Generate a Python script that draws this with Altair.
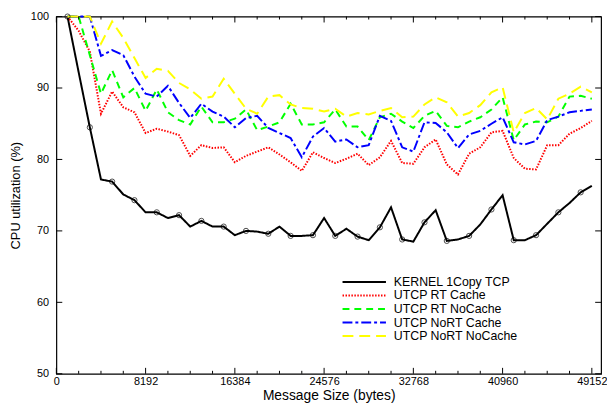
import altair as alt
import pandas as pd

msg_size = [1024, 2048, 3072, 4096, 5120, 6144, 7168, 8192, 9216, 10240, 11264, 12288,
            13312, 14336, 15360, 16384, 17408, 18432, 19456, 20480, 21504, 22528, 23552, 24576,
            25600, 26624, 27648, 28672, 29696, 30720, 31744, 32768, 33792, 34816, 35840, 36864,
            37888, 38912, 39936, 40960, 41984, 43008, 44032, 45056, 46080, 47104, 48128, 49152]

kernel = [100, 92.2, 84.5, 77.2, 76.9, 75.1, 74.3, 72.6, 72.6, 71.8, 72.2, 70.6,
          71.4, 70.6, 70.6, 69.4, 70.0, 69.9, 69.6, 70.6, 69.3, 69.3, 69.4, 71.8,
          69.3, 70.3, 69.2, 68.7, 70.5, 73.3, 68.8, 68.5, 71.2, 72.9, 68.6, 68.8,
          69.3, 70.9, 73.0, 75.0, 68.7, 68.7, 69.4, 71.0, 72.6, 73.9, 75.4, 76.3]
rt_cache = [100, 98.0, 95.1, 86.4, 89.5, 87.3, 86.6, 83.7, 84.3, 83.9, 83.4, 80.5,
            82.0, 81.6, 81.7, 79.6, 80.5, 81.1, 81.7, 80.7, 79.6, 78.4, 81.0, 80.2,
            79.5, 80.1, 80.8, 79.2, 80.3, 82.6, 79.5, 79.4, 81.7, 82.8, 79.3, 77.9,
            80.8, 81.7, 83.8, 84.0, 80.2, 78.7, 78.6, 82.0, 82.0, 83.6, 84.4, 85.4]
rt_nocache = [100, 100, 94.6, 89.2, 92.5, 88.7, 90.0, 86.8, 89.8, 86.6, 85.5, 84.9,
              87.4, 85.2, 85.2, 85.7, 87.0, 84.1, 84.6, 85.2, 87.8, 84.9, 84.9, 85.2,
              87.0, 84.6, 84.6, 82.7, 85.9, 86.4, 85.3, 84.4, 86.1, 86.8, 84.7, 84.5,
              85.3, 85.9, 87.0, 88.7, 82.7, 84.9, 85.3, 85.2, 86.0, 88.8, 88.9, 88.5]
nort_cache = [100, 100, 100, 94.5, 95.3, 94.6, 91.6, 89.2, 88.8, 90.3, 87.9, 85.8,
              87.8, 86.7, 86.0, 84.5, 85.8, 86.1, 84.4, 83.7, 83.0, 80.3, 83.2, 84.4,
              82.5, 82.8, 81.7, 82.0, 86.1, 85.4, 81.7, 81.1, 85.2, 85.1, 83.8, 81.6,
              83.5, 84.0, 85.0, 85.9, 82.4, 82.1, 82.6, 85.5, 86.0, 86.6, 86.8, 87.0]
nort_nocache = [100, 100, 100, 96.2, 99.3, 97.0, 94.2, 91.4, 92.7, 92.4, 90.7, 89.8,
                88.5, 88.8, 91.3, 89.2, 87.1, 86.4, 88.8, 89.0, 87.7, 87.2, 87.1, 86.7,
                87.1, 86.0, 86.5, 86.3, 86.8, 87.2, 85.9, 86.0, 87.7, 88.7, 88.0, 86.0,
                86.5, 87.6, 89.4, 90.1, 83.8, 86.5, 87.2, 85.6, 88.5, 89.2, 90.2, 89.4]

series_names = ["KERNEL 1Copy TCP", "UTCP RT Cache", "UTCP RT NoCache",
                "UTCP NoRT Cache", "UTCP NoRT NoCache"]
series_values = [kernel, rt_cache, rt_nocache, nort_cache, nort_nocache]
series_colors = ["#000000", "#ff0000", "#00ff00", "#0000ff", "#ffff00"]
series_dashes = [[1, 0], [1.5, 1.5], [7, 5], [10, 3, 3, 3], [11, 6]]

x_major = [0, 8192, 16384, 24576, 32768, 40960, 49152]
x_minor = [2048, 4096, 6144, 10240, 12288, 14336, 18432, 20480, 22528, 26624, 28672,
           30720, 34816, 36864, 38912, 43008, 45056, 47104]
y_major = [50, 60, 70, 80, 90, 100]

rows = []
for name, vals in zip(series_names, series_values):
    for i, (s, v) in enumerate(zip(msg_size, vals)):
        rows.append({"size": s, "cpu": v, "series": name, "i": i})
df = pd.DataFrame(rows)
markers = df[(df["series"] == series_names[0]) & (df["i"] % 2 == 0)]

W, H = 552, 362
xscale = alt.Scale(domain=[0, 50000], nice=False, zero=False)
yscale = alt.Scale(domain=[50, 100], nice=False, zero=False)

legend = alt.Legend(title=None, orient="none", legendX=289, legendY=263,
                    symbolType="stroke", symbolSize=1936, symbolStrokeWidth=2,
                    clipHeight=12, rowPadding=0.7, padding=0,
                    labelFont="Liberation Sans", labelFontSize=12.5, labelOffset=7,
                    labelColor="#000000")

lines = alt.Chart(df).mark_line(strokeWidth=2).encode(
    x=alt.X("size:Q", scale=xscale,
            axis=alt.Axis(values=x_major, format="d", ticks=False, domain=False, grid=False,
                          labelFlush=False, labelPadding=2, labelFontSize=11,
                          labelFont="Liberation Sans", labelColor="#000000",
                          title="Message Size (bytes)", titleFont="Liberation Sans",
                          titleFontSize=14, titleFontWeight="normal", titlePadding=2,
                          titleColor="#000000")),
    y=alt.Y("cpu:Q", scale=yscale,
            axis=alt.Axis(values=y_major, ticks=False, domain=False, grid=False,
                          labelPadding=8, labelFontSize=11, labelFont="Liberation Sans",
                          labelColor="#000000",
                          title="CPU utilization (%)", titleFont="Liberation Sans",
                          titleFontSize=13, titleFontWeight="normal", titlePadding=8,
                          titleColor="#000000")),
    color=alt.Color("series:N", scale=alt.Scale(domain=series_names, range=series_colors),
                    legend=legend),
    strokeDash=alt.StrokeDash("series:N",
                              scale=alt.Scale(domain=series_names, range=series_dashes),
                              legend=legend),
    detail="series:N",
)

points = alt.Chart(markers).mark_point(shape="circle", filled=False, color="#000000",
                                       size=28, strokeWidth=1).encode(
    x=alt.X("size:Q", scale=xscale),
    y=alt.Y("cpu:Q", scale=yscale),
)

xmaj = pd.DataFrame({"v": x_major})
xmin = pd.DataFrame({"v": x_minor})
ymaj = pd.DataFrame({"v": y_major})

def xticks(data, y0, y1):
    return alt.Chart(data).mark_rule(color="#000000", strokeWidth=1).encode(
        x=alt.X("v:Q", scale=xscale), y=alt.value(y0), y2=alt.value(y1))

def yticks(data, x0, x1):
    return alt.Chart(data).mark_rule(color="#000000", strokeWidth=1).encode(
        y=alt.Y("v:Q", scale=yscale), x=alt.value(x0), x2=alt.value(x1))

ticks = [
    xticks(xmaj, H - 6, H), xticks(xmaj, 0, 6),
    xticks(xmin, H - 3, H), xticks(xmin, 0, 3),
    yticks(ymaj, 0, 6), yticks(ymaj, W - 6, W),
]

chart = alt.layer(lines, points, *ticks).properties(
    width=W, height=H,
    autosize=alt.AutoSizeParams(type="none"),
    padding={"left": 49, "top": 6, "right": 6, "bottom": 32},
).configure_view(stroke="#000000", strokeWidth=1.2)

chart.save("out.html", embed_options={"renderer": "svg", "actions": False})
